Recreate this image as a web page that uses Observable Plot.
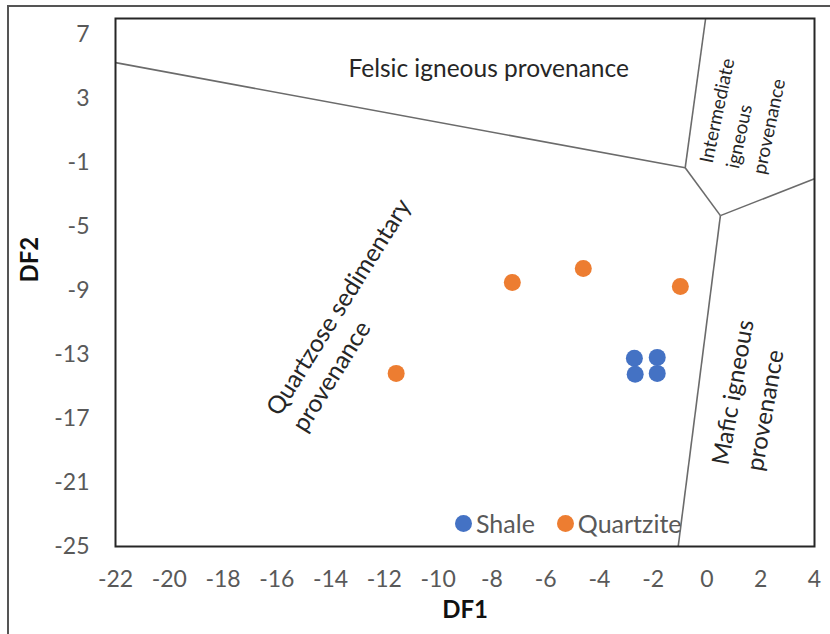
<!DOCTYPE html>
<html>
<head>
<meta charset="utf-8">
<script src="https://cdn.jsdelivr.net/npm/d3@7"></script>
<script src="https://cdn.jsdelivr.net/npm/@observablehq/plot@0.6"></script>
<style>
  html, body { margin: 0; padding: 0; background: #fff; }
  #wrap { position: relative; width: 830px; height: 634px; overflow: hidden; font-family: Lato, sans-serif; }
  #border { position: absolute; left: 7px; top: 5px; width: 900px; height: 700px;
            border-left: 2px solid #555; border-top: 2px solid #555; box-sizing: border-box; }
  #legend { position: absolute; top: 508px; left: 455px; display: flex; align-items: center;
            font-size: 25px; color: #595959; white-space: nowrap; }
  #legend .item { display: flex; align-items: center; margin-right: 22px; }
  #legend .sw { width: 17px; height: 17px; border-radius: 50%; margin-right: 4px; }
  svg { position: absolute; left: 0; top: 0; }
</style>
</head>
<body>
<div id="wrap">
  <div id="border"></div>
</div>
<script>
// Axis ticks
const df1Ticks = [-22, -20, -18, -16, -14, -12, -10, -8, -6, -4, -2, 0, 2, 4];
const df2Ticks = [7, 3, -1, -5, -9, -13, -17, -21, -25];

// Sample scores (DF1, DF2)
const seriesNames = ["Shale", "Quartzite"];
const seriesColors = ["#4472C4", "#ED7D31"];
const shaleDF1 = [-2.70, -2.67, -1.85, -1.85];
const shaleDF2 = [-13.24, -14.24, -13.18, -14.18];
const quartziteDF1 = [-7.24, -4.60, -0.99, -11.56];
const quartziteDF2 = [-8.50, -7.63, -8.75, -14.18];

// Field boundary vertices of the provenance diagram
const leftEdge = [-22, 5.24];
const junctionUpper = [-0.81, -1.33];
const topEdge = [-0.05, 8];
const junctionLower = [0.50, -4.32];
const rightEdge = [4, -2.01];
const bottomEdge = [-1.07, -25];
const boundarySegments = [
  [leftEdge, junctionUpper],
  [junctionUpper, topEdge],
  [junctionUpper, junctionLower],
  [junctionLower, rightEdge],
  [junctionLower, bottomEdge]
];

// Field names
const fieldLabels = [
  {text: "Felsic igneous provenance", x: -8.12, y: 4.95, rotate: 0, anchor: "middle", size: 24.5, lh: 1.2},
  {text: "Intermediate\nigneous\nprovenance", x: 0.87, y: -1.33, rotate: -78, anchor: "start", size: 19, lh: 1.42},
  {text: "Quartzose sedimentary\nprovenance", x: -15.73, y: -17.11, rotate: -58, anchor: "start", size: 24.5, lh: 1.25},
  {text: "Mafic igneous\nprovenance", x: 1.02, y: -20.04, rotate: -80, anchor: "start", size: 24, lh: 1.45}
];

const points = [
  ...shaleDF1.map((d, i) => ({df1: d, df2: shaleDF2[i], rock: seriesNames[0]})),
  ...quartziteDF1.map((d, i) => ({df1: d, df2: quartziteDF2[i], rock: seriesNames[1]}))
];
const segments = boundarySegments.map(([a, b]) => ({x1: a[0], y1: a[1], x2: b[0], y2: b[1]}));

const chart = Plot.plot({
  width: 830,
  height: 634,
  marginLeft: 115,
  marginRight: 16,
  marginTop: 18,
  marginBottom: 88,
  style: {fontFamily: "Lato, sans-serif", fontSize: "23px", color: "#595959", background: "transparent"},
  x: {domain: [-22, 4], ticks: df1Ticks, label: null},
  y: {domain: [-25, 8], ticks: df2Ticks, label: null},
  color: {domain: seriesNames, range: seriesColors},
  marks: [
    Plot.link(segments, {x1: "x1", y1: "y1", x2: "x2", y2: "y2", stroke: "#6b6b6b", strokeWidth: 1.6}),
    ...fieldLabels.map(l => Plot.text([l], {
      x: "x", y: "y", text: "text", rotate: l.rotate, textAnchor: l.anchor,
      lineHeight: l.lh, fontSize: l.size, fill: "#262626"
    })),
    Plot.dot(points, {x: "df1", y: "df2", fill: "rock", r: 8.5}),
    Plot.axisX({ticks: df1Ticks, tickSize: 0, tickPadding: 24, fontSize: 23, label: null, tickFormat: d => String(d)}),
    Plot.axisY({ticks: df2Ticks, tickSize: 0, tickPadding: 26, fontSize: 23, label: null, tickFormat: d => String(d)}),
    Plot.text(["DF1"], {frameAnchor: "bottom", dy: 71, fontSize: 24, fontWeight: "bold", fill: "#111"}),
    Plot.text(["DF2"], {frameAnchor: "left", dx: -85, rotate: -90, fontSize: 24, fontWeight: "bold", fill: "#111"}),
    Plot.frame({stroke: "#262626", strokeWidth: 2})
  ]
});

const wrap = document.getElementById("wrap");
wrap.appendChild(chart);

// Legend placed inside the plotting area, above the bottom axis
const legend = document.createElement("div");
legend.id = "legend";
seriesNames.forEach((name, i) => {
  const item = document.createElement("div");
  item.className = "item";
  const sw = document.createElement("span");
  sw.className = "sw";
  sw.style.background = seriesColors[i];
  const label = document.createElement("span");
  label.textContent = name;
  item.appendChild(sw);
  item.appendChild(label);
  legend.appendChild(item);
});
wrap.appendChild(legend);
</script>
</body>
</html>
